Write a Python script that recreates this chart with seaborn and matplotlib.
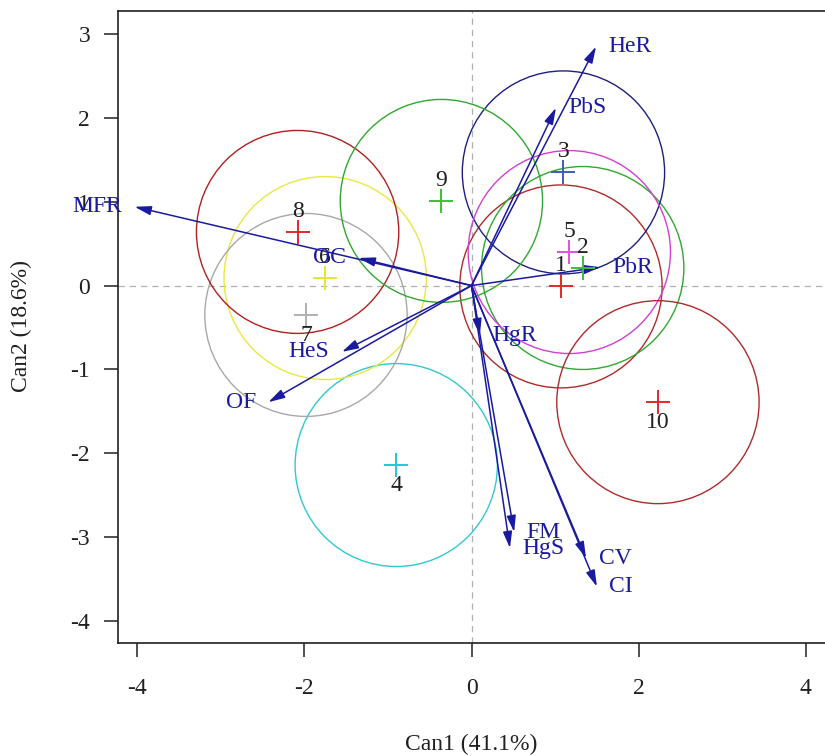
import numpy as np
import pandas as pd
import matplotlib
matplotlib.use("Agg")
import matplotlib.pyplot as plt
import seaborn as sns
from matplotlib.patches import Circle

# ---- data -------------------------------------------------------------
groups = ["1", "2", "3", "4", "5", "6", "7", "8", "9", "10"]
can1 = [1.07, 1.33, 1.10, -0.90, 1.17, -1.75, -1.98, -2.08, -0.36, 2.23]
can2 = [-0.01, 0.21, 1.35, -2.14, 0.40, 0.09, -0.35, 0.64, 1.01, -1.39]
circle_radius = 1.21

variables = ["MFR", "OC", "HeS", "OF", "HeR", "PbS", "PbR", "HgR",
             "FM", "HgS", "CV", "CI"]
vec1 = [-4.03, -1.35, -1.55, -2.43, 1.49, 1.01, 1.54, 0.10,
        0.51, 0.46, 1.37, 1.50]
vec2 = [0.94, 0.33, -0.79, -1.39, 2.85, 2.12, 0.22, -0.59,
        -2.94, -3.13, -3.25, -3.59]

xlabel = "Can1 (41.1%)"
ylabel = "Can2 (18.6%)"
xticks = [-4, -2, 0, 2, 4]
yticks = [-4, -3, -2, -1, 0, 1, 2, 3]

# ---- styles -----------------------------------------------------------
cross_colors = ["#e02828", "#3cc03c", "#3a5fb0", "#20c8d8", "#e050e0",
                "#e6e630", "#b0b0b0", "#e02828", "#3cc03c", "#e02828"]
circle_colors = ["#b02a2a", "#30a830", "#1e1e80", "#30c8d0", "#d040d0",
                 "#e8e840", "#a8a8a8", "#b02020", "#30a830", "#b02a2a"]
label_side = ["above", "above", "above", "below", "above", "above",
              "below", "above", "above", "below"]
arrow_color = "#1a1aa0"
FS = 17

sns.set_theme(style="white")
plt.rcParams["font.family"] = ["Liberation Serif", "DejaVu Serif"]

fig = plt.figure(figsize=(8.25, 7.56), dpi=100)
W, H = 825, 756
ax = fig.add_axes([118 / W, (H - 643) / H, 709 / W, 632 / H])

x0px, y0px, sx, sy = 471.5, 285.6, 83.6, 83.86
ax.set_xlim((118 - x0px) / sx, (827 - x0px) / sx)
ax.set_ylim((y0px - 643) / sy, (y0px - 11) / sy)

# reference lines
ax.axhline(0, color="#b0b0b0", lw=0.9, ls=(0, (5, 4)), zorder=1)
ax.axvline(0, color="#b0b0b0", lw=0.9, ls=(0, (5, 4)), zorder=1)

# circles
for cx, cy, col in zip(can1, can2, circle_colors):
    ax.add_patch(Circle((cx, cy), circle_radius, fill=False,
                        edgecolor=col, lw=1.0, zorder=2))

# group means
df = pd.DataFrame({"Can1": can1, "Can2": can2, "group": groups})
sns.scatterplot(data=df, x="Can1", y="Can2", hue="group",
                palette=dict(zip(groups, cross_colors)), marker="+",
                s=300, linewidth=1.4, legend=False, ax=ax, zorder=4)

for g, cx, cy, side in zip(groups, can1, can2, label_side):
    off = 15 if side == "above" else -15
    ax.annotate(g, xy=(cx, cy), xytext=(0, off), textcoords="offset points",
                ha="center", va="center", fontsize=FS, color="#202020",
                zorder=5)

# variable vectors
for name, vx, vy in zip(variables, vec1, vec2):
    ax.annotate("", xy=(vx, vy), xytext=(0, 0),
                arrowprops=dict(arrowstyle="-|>,head_length=0.9,head_width=0.25",
                                color=arrow_color, lw=1.1, shrinkA=0, shrinkB=0,
                                mutation_scale=11),
                zorder=3)
    right = vx >= 0
    ax.annotate(name, xy=(vx, vy), xytext=(9 if right else -9, 0),
                textcoords="offset points",
                ha="left" if right else "right", va="center",
                fontsize=FS, color=arrow_color, zorder=6,
                annotation_clip=False)

# axes cosmetics
ax.set_xticks(xticks)
ax.set_yticks(yticks)
ax.set_xticklabels([str(t) for t in xticks])
ax.set_yticklabels([str(t) for t in yticks])
ax.tick_params(axis="both", direction="out", length=10, width=1.1,
               color="#202020", labelsize=FS, labelcolor="#202020",
               bottom=True, left=True)
ax.tick_params(axis="x", pad=15)
ax.tick_params(axis="y", pad=10)
for sp in ax.spines.values():
    sp.set_color("#202020")
    sp.set_linewidth(1.2)

ax.set_xlabel(xlabel, fontsize=FS, color="#202020")
ax.set_ylabel(ylabel, fontsize=FS, color="#202020")
ax.xaxis.set_label_coords(0.5 * (825 - 118) / 709, -0.143)
ax.yaxis.set_label_coords(-0.121, 0.5016)

fig.savefig("out.png", dpi=100)
